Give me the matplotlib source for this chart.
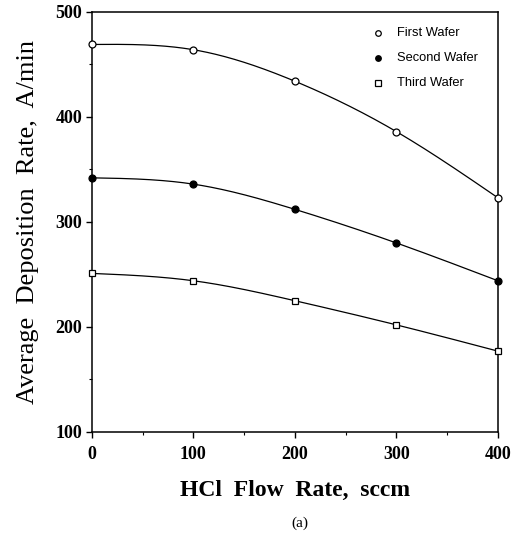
import numpy as np
import matplotlib
matplotlib.use("Agg")
import matplotlib.pyplot as plt

# HCl flow rate (sccm) and average deposition rate (A/min) per wafer
flow = np.array([0, 100, 200, 300, 400])
first_wafer = np.array([469, 464, 434, 386, 323])
second_wafer = np.array([342, 336, 312, 280, 244])
third_wafer = np.array([251, 244, 225, 202, 177])

SERIF = ["Liberation Serif", "DejaVu Serif"]
SANS = ["Liberation Sans", "DejaVu Sans"]


def spline(x, y, xs):
    """Natural cubic spline through (x, y), sampled at xs."""
    x = x.astype(float); y = y.astype(float)
    n = len(x); h = np.diff(x)
    A = np.zeros((n, n)); b = np.zeros(n)
    A[0, 0] = A[-1, -1] = 1
    for i in range(1, n - 1):
        A[i, i - 1] = h[i - 1]; A[i, i] = 2 * (h[i - 1] + h[i]); A[i, i + 1] = h[i]
        b[i] = 6 * ((y[i + 1] - y[i]) / h[i] - (y[i] - y[i - 1]) / h[i - 1])
    M = np.linalg.solve(A, b)
    k = np.clip(np.searchsorted(x, xs) - 1, 0, n - 2)
    t0 = xs - x[k]; t1 = x[k + 1] - xs; hk = h[k]
    return (M[k] * t1**3 + M[k + 1] * t0**3) / (6 * hk) \
        + (y[k] / hk - M[k] * hk / 6) * t1 + (y[k + 1] / hk - M[k + 1] * hk / 6) * t0


fig = plt.figure(figsize=(5.28, 5.41), dpi=100)
ax = fig.add_axes([0.174, 0.2015, 0.769, 0.7765])

xs = np.linspace(0, 400, 300)
series = [
    (first_wafer, dict(marker="o", mfc="white"), "First Wafer"),
    (second_wafer, dict(marker="o", mfc="black"), "Second Wafer"),
    (third_wafer, dict(marker="s", mfc="white"), "Third Wafer"),
]
for vals, mk, _ in series:
    ax.plot(xs, spline(flow, vals, xs), color="black", lw=0.9, clip_on=False)
    ax.plot(flow, vals, ls="none", mec="black", mew=0.9, ms=5, clip_on=False, zorder=3, **mk)

ax.set_xlim(0, 400)
ax.set_ylim(100, 500)
ax.set_xticks([0, 100, 200, 300, 400])
ax.set_yticks([100, 200, 300, 400, 500])
ax.set_xticks(np.arange(50, 400, 100), minor=True)
ax.set_yticks(np.arange(150, 500, 100), minor=True)
ax.tick_params(which="major", direction="out", length=4, width=1)
ax.tick_params(which="minor", direction="out", length=2.5, width=0.8)
for s in ax.spines.values():
    s.set_linewidth(1.1)

for lab in ax.get_xticklabels() + ax.get_yticklabels():
    lab.set_family(SERIF)
    lab.set_fontweight("bold")
    lab.set_fontsize(13)
ax.tick_params(axis="x", pad=6)
ax.tick_params(axis="y", pad=3)

ax.set_xlabel("HCl  Flow  Rate,  sccm", family=SERIF, fontweight="bold", fontsize=17, labelpad=12)
ax.set_ylabel("Average  Deposition  Rate,  A/min", family=SERIF, fontsize=19, labelpad=12)

fig.text(0.568, 0.033, "(a)", family=SERIF, fontsize=11, ha="center", va="center")

# legend drawn as a plain key in the upper right
for i, (_, mk, name) in enumerate(series):
    yk = 480 - i * 24
    ax.plot([282], [yk], ls="none", mec="black", mew=0.9, ms=4, **mk)
    ax.text(301, yk, name, family=SANS, fontsize=9.3, va="center")

fig.savefig("out.png", dpi=100, facecolor="white")
